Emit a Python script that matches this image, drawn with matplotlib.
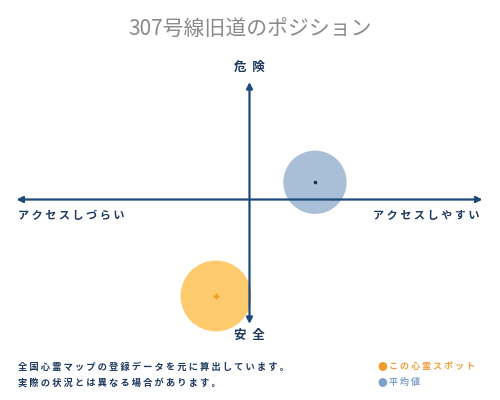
import matplotlib
matplotlib.use("Agg")
import matplotlib.pyplot as plt
import matplotlib.patches as patches

plt.rcParams['font.family'] = ['Noto Sans CJK JP', 'DejaVu Sans']

# positions on the access (x) / danger (y) plane, axis half length = 1
title = "307号線旧道のポジション"
axis_labels = ["危険", "安全", "アクセスしづらい", "アクセスしやすい"]
spot_name = "この心霊スポット"
avg_name = "平均値"
spot_xy = (-0.144, -0.414)
spot_r = 0.152
avg_xy = (0.281, 0.074)
avg_r = 0.136
notes = ["全国心霊マップの登録データを元に算出しています。",
         "実際の状況とは異なる場合があります。"]

NAVY = '#1d4a78'
TEXT = '#1f3a5f'


def spaced(s, gap=" "):
    return gap.join(list(s))


fig = plt.figure(figsize=(5, 4), dpi=100)
fig.patch.set_facecolor('white')
ax = fig.add_axes([0.033, 0.19, 0.932, 0.605])
ax.set_xlim(-1, 1)
ax.set_ylim(-0.534, 0.504)
ax.set_aspect('equal')
ax.axis('off')

# circles
ax.add_patch(patches.Circle(avg_xy, avg_r, fc='#a9bfd8', ec='none', zorder=2,
                            clip_on=False))
ax.add_patch(patches.Circle(spot_xy, spot_r, fc='#fdca6e', ec='none', zorder=2,
                            clip_on=False))
ax.plot(*avg_xy, marker='o', ms=1.6, color='#1f2f45', zorder=3, clip_on=False)
ax.plot(*spot_xy, marker='P', ms=4, color='#f0a020', mec='none', zorder=3,
        clip_on=False)

# axes with arrows
arrow = dict(arrowstyle='<|-|>', color=NAVY, lw=1.6, shrinkA=0, shrinkB=0,
             mutation_scale=9)
ax.annotate('', xy=(1, 0), xytext=(-1, 0), arrowprops=arrow, zorder=4)
ax.annotate('', xy=(0, 0.504), xytext=(0, -0.534), arrowprops=arrow, zorder=4)

lab = dict(color=TEXT, fontweight='bold', fontsize=9)
ax.annotate(spaced(axis_labels[0], "  "), xy=(0, 0.504), xytext=(0, 15),
            textcoords='offset pixels', ha='center', va='center', **lab)
ax.annotate(spaced(axis_labels[1], "  "), xy=(0, -0.534), xytext=(0, -11),
            textcoords='offset pixels', ha='center', va='center', **lab)
lab2 = dict(color=TEXT, fontweight='bold', fontsize=8)
ax.annotate(spaced(axis_labels[2]), xy=(-1, 0), xytext=(1, -16),
            textcoords='offset pixels', ha='left', va='center', **lab2)
ax.annotate(spaced(axis_labels[3]), xy=(1, 0), xytext=(-3, -16),
            textcoords='offset pixels', ha='right', va='center', **lab2)

fig.text(0.5, 0.925, title, ha='center', va='center', fontsize=15,
         color='#8a8a8a')

for i, line in enumerate(notes):
    fig.text(0.036, 0.083 - i * 0.04, spaced(line), ha='left', va='center',
             fontsize=6.7, color=TEXT, fontweight='bold')

fig.text(0.754, 0.083, "●", ha='left', va='center', fontsize=7, color='#f39a2c')
fig.text(0.778, 0.083, spaced(spot_name), ha='left', va='center', fontsize=6.5,
         color='#f0a040', fontweight='bold')
fig.text(0.754, 0.043, "●", ha='left', va='center', fontsize=7, color='#7da2c8')
fig.text(0.778, 0.043, spaced(avg_name), ha='left', va='center', fontsize=6.5,
         color='#7da2c8', fontweight='bold')

fig.savefig('out.png', dpi=100, facecolor='white')
